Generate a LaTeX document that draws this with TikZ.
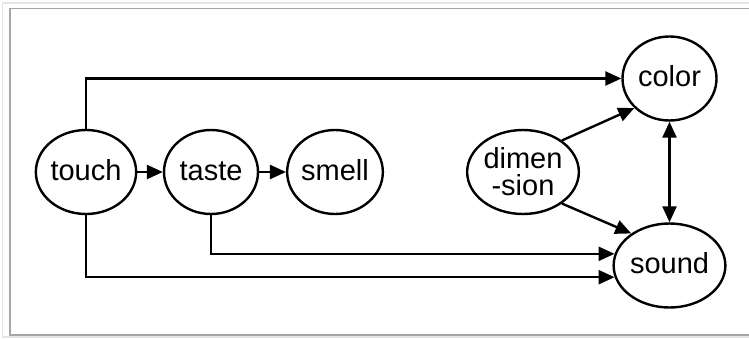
\documentclass[tikz,border=0pt]{standalone}
\usepackage{fontspec}
\setmainfont{Liberation Sans}
\usetikzlibrary{arrows.meta, shapes.geometric}
\begin{document}
\begin{tikzpicture}[x = 0.5pt, y = -0.5pt, line width = 1.2pt,
                    >= {Triangle[length = 8pt, width = 7pt]},
                    sense/.style = {ellipse, draw, fill = white, minimum width = 47pt, minimum height = 42pt, inner sep = 0pt, align = center, text height = 9pt, text depth = 1pt, font = \fontsize{14.5}{13.5}\selectfont},
                    frame/.style = {line width = 0.8pt}
                    ]
    \useasboundingbox (0, 0) rectangle (749, 338);
    \draw[frame, gray!20] (749, 3) -- (2.5, 3) -- (2.5, 337) -- (749, 337);
    \draw[frame, gray!70] (749, 8.5) -- (10, 8.5) -- (10, 335) -- (749, 335);

    \node[sense] (touch) at (86, 172)    {touch};
    \node[sense] (taste) at (211, 172)   {taste};
    \node[sense] (smell) at (335, 172)   {smell};
    \node[sense, text height = , text depth = ] (dim) at (523, 172) {dimen\\-sion};
    \node[sense] (color) at (669.5, 78.5)  {color};
    \node[sense] (sound) at (669.5, 265.5) {sound};

    \draw[->] (touch) -- (taste);
    \draw[->] (taste) -- (smell);
    \draw[->] (touch.north) |- (color);
    \draw[->] (taste.south) |- (sound.168);
    \draw[->] (touch.south) |- (sound.192);
    \draw[->] (dim.39) -- (color.220);
    \draw[->] (dim.-39) -- (sound.140);
    \draw[<->] (color) -- (sound);
\end{tikzpicture}
\end{document}
